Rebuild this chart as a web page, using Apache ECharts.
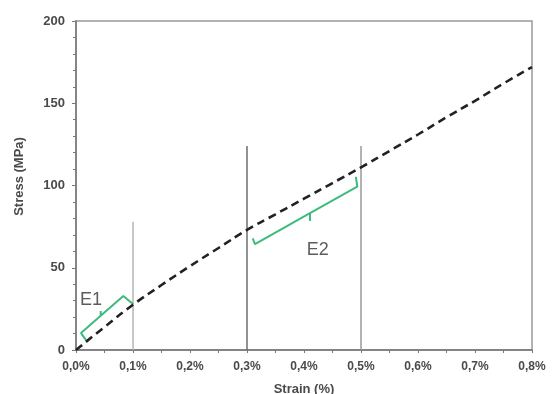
<!DOCTYPE html>
<html>
<head>
<meta charset="utf-8">
<script src="https://cdn.jsdelivr.net/npm/echarts@6/dist/echarts.min.js"></script>
<style>
  html, body { margin: 0; padding: 0; background: #fff; }
  #chart { width: 554px; height: 394px; }
</style>
</head>
<body>
<div id="chart"></div>
<script>
// Stress–strain curve (strain in %, stress in MPa)
const strain = [0, 0.05, 0.1, 0.15, 0.2, 0.25, 0.3, 0.35, 0.4, 0.45, 0.5, 0.55, 0.6, 0.65, 0.7, 0.75, 0.8];
const stress = [0, 14, 27.5, 39.5, 51, 62, 73, 82.5, 92, 101.5, 111, 121, 131, 141.5, 151.5, 162, 172];

// Vertical reference lines: strain position and height (MPa)
const refStrain = [0.1, 0.3, 0.5];
const refHeight = [78, 124, 124];
const refColor = ['#b4b4b4', '#6e6e6e', '#9a9a9a'];

// Brace outlines marking the two modulus regions
const braceE1 = [[0.0175, 6], [0.0088, 10.3], [0.0433, 20.8], [0.0433, 23.7], [0.0433, 20.8], [0.083, 32.8], [0.1, 28]];
const braceE2 = [[0.31, 67.9], [0.314, 64.4], [0.4105, 83.2], [0.4105, 78.4], [0.4105, 83.2], [0.4935, 99.3], [0.491, 105.3]];
const braceLabels = [
  { name: 'E1', x: 0.007, y: 30.5 },
  { name: 'E2', x: 0.405, y: 60.5 }
];

// x tick labels are written with a decimal comma
const fmtStrain = v => v.toFixed(1).replace('.', ',') + '%';

const chart = echarts.init(document.getElementById('chart'));

const series = [];
refStrain.forEach((x, i) => {
  series.push({
    type: 'line',
    data: [[x, 0], [x, refHeight[i]]],
    symbol: 'none',
    lineStyle: { color: refColor[i], width: 1.5 },
    silent: true,
    z: 1
  });
});
series.push({
  type: 'line',
  data: strain.map((x, i) => [x, stress[i]]),
  smooth: true,
  symbol: 'none',
  lineStyle: { color: '#222', width: 2.6, type: [8, 5] },
  z: 3
});
[braceE1, braceE2].forEach(b => {
  series.push({
    type: 'line',
    data: b,
    symbol: 'none',
    lineStyle: { color: '#3dbb7c', width: 2 },
    z: 2
  });
});
series.push({
  type: 'scatter',
  data: braceLabels.map(l => ({ value: [l.x, l.y], name: l.name })),
  symbolSize: 0,
  label: {
    show: true,
    formatter: p => p.name,
    position: 'right',
    distance: 0,
    color: '#333',
    fontSize: 18,
    fontFamily: 'Liberation Sans'
  },
  z: 4
});

chart.setOption({
  animation: false,
  grid: {
    left: 76, right: 22, top: 21, bottom: 44,
    outerBoundsMode: 'none',
    containLabel: false,
    show: true, borderColor: '#999', borderWidth: 1.5
  },
  xAxis: {
    type: 'value',
    min: 0, max: 0.8, interval: 0.1,
    name: 'Strain (%)',
    nameLocation: 'middle',
    nameGap: 33,
    nameTextStyle: { fontFamily: 'Liberation Sans', fontWeight: 'bold', fontSize: 13, color: '#4a4a4a' },
    axisLine: { show: true, lineStyle: { color: '#777', width: 1.5 } },
    axisTick: { show: true, length: 3, lineStyle: { color: '#777' } },
    minorTick: { show: true, splitNumber: 2, length: 3, lineStyle: { color: '#777' } },
    splitLine: { show: false },
    axisLabel: { formatter: fmtStrain, color: '#4a4a4a', fontWeight: 'bold', fontFamily: 'Liberation Sans', fontSize: 12, margin: 11 }
  },
  yAxis: {
    type: 'value',
    min: 0, max: 200, interval: 50,
    name: 'Stress (MPa)',
    nameLocation: 'middle',
    nameGap: 50,
    nameTextStyle: { fontFamily: 'Liberation Sans', fontWeight: 'bold', fontSize: 13, color: '#4a4a4a', padding: [0, 0, 0, 18] },
    axisLine: { show: true, lineStyle: { color: '#777', width: 1.5 } },
    axisTick: { show: true, length: 4, lineStyle: { color: '#777' } },
    minorTick: { show: true, splitNumber: 5, length: 3, lineStyle: { color: '#777' } },
    splitLine: { show: false },
    axisLabel: { color: '#4a4a4a', fontWeight: 'bold', fontFamily: 'Liberation Sans', fontSize: 13, margin: 11 }
  },
  series: series
});
</script>
</body>
</html>
